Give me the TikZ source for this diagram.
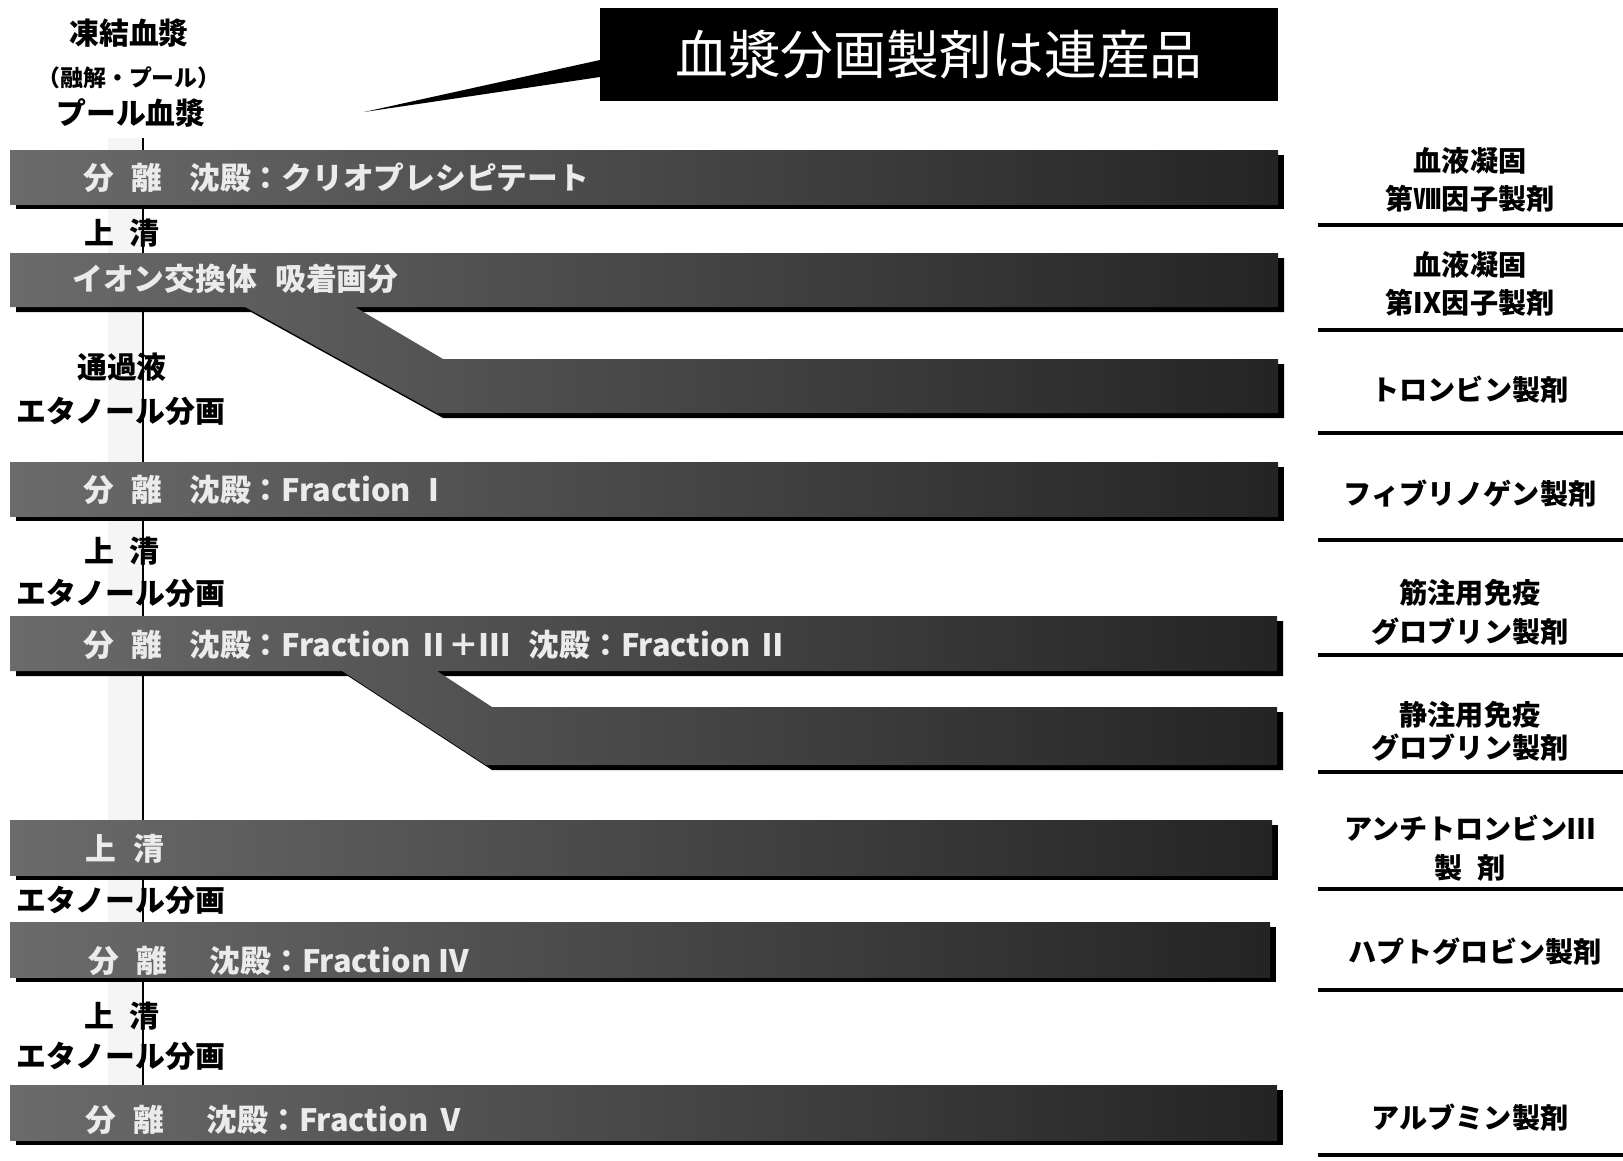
\documentclass[tikz,border=0pt]{standalone}
\usepackage{fontspec}
\newfontfamily\jp{Noto Sans CJK JP}
\begin{document}
\begin{tikzpicture}[x=0.2mm,y=-0.2mm,line join=round,
	lbl/.style={font=\jp\bfseries\fontsize{17}{21}\selectfont,inner sep=0pt},
	prod/.style={font=\jp\bfseries\fontsize{16}{22}\selectfont,align=center,inner sep=0pt},
	bartxt/.style={font=\jp\bfseries\fontsize{17.5}{20}\selectfont,text=black!8,anchor=west,inner sep=0pt},
	barfill/.style={left color=black!58,right color=black!86},
	barshadow/.style={fill=black,shift={(6,5)}},
	prodline/.style={line width=0.8mm}]
	\useasboundingbox (0,0) rectangle (1623,1160);
	\def\barB{(10,253)--(1278,253)--(1278,307)--(355,307)--(443,359)--(1278,359)--(1278,413)--(437,413)--(245,307)--(10,307)--cycle}
	\def\barD{(10,616)--(1277,616)--(1277,671)--(437,671)--(492,707)--(1277,707)--(1277,765)--(486,765)--(342,671)--(10,671)--cycle}
	% main flow line
	\fill[black!4] (108,138) rectangle (142,1085);
	\coordinate (flowtop) at (143,138);
	\coordinate (flowend) at (143,1085);
	\draw[line width=0.4mm] (flowtop)--(flowend);
	% process bars
	\foreach \yt/\yb/\xr in {150/204/1278,462/516/1278,820/875/1272,922/977/1270,1085/1140/1277}{
		\fill[barshadow] (10,\yt) rectangle (\xr,\yb);
		\shade[barfill] (10,\yt) rectangle (\xr,\yb);}
	\fill[barshadow] \barB; \shade[barfill] \barB;
	\fill[barshadow] \barD; \shade[barfill] \barD;
	\node[bartxt] (cryo) at (83,178) {分\hspace{0.55em}離\hspace{0.9em}沈殿：クリオプレシピテート};
	\node[bartxt] (ionex) at (72,279) {イオン交換体\hspace{0.6em}吸着画分};
	\node[bartxt] (frI) at (83,490) {分\hspace{0.55em}離\hspace{0.9em}沈殿：Fraction Ⅰ};
	\node[bartxt] (frII) at (83,645) {分\hspace{0.55em}離\hspace{0.9em}沈殿：Fraction Ⅱ＋Ⅲ\hspace{0.6em}沈殿：Fraction Ⅱ};
	\node[bartxt] (supV) at (85,849) {上\hspace{0.55em}清};
	\node[bartxt] (frIV) at (88,961) {分\hspace{0.55em}離\hspace{1.4em}沈殿：Fraction Ⅳ};
	\node[bartxt] (frV) at (85,1120) {分\hspace{0.55em}離\hspace{1.4em}沈殿：Fraction Ⅴ};
	% left labels
	\node[lbl] (frozen) at (129,33) {凍結血漿};
	\node[lbl,font=\jp\bfseries\fontsize{13}{15}\selectfont] (thaw) at (129,78) {（融解・プール）};
	\node[lbl] (pool) at (131,113) {プール血漿};
	\node[lbl] (sup1) at (122,233) {上\hspace{0.5em}清};
	\node[lbl] (flow) at (122,367) {通過液};
	\node[lbl] (eth1) at (121,411) {エタノール分画};
	\node[lbl] (sup2) at (122,551) {上\hspace{0.5em}清};
	\node[lbl] (eth2) at (121,593) {エタノール分画};
	\node[lbl] (eth3) at (121,900) {エタノール分画};
	\node[lbl] (sup3) at (122,1016) {上\hspace{0.5em}清};
	\node[lbl] (eth4) at (121,1056) {エタノール分画};
	% callout
	\coordinate (tip) at (364,112);
	\fill (600,60)--(tip)--(600,77)--cycle;
	\node[fill=black,text=white,minimum width=135.6mm,minimum height=18.6mm,inner sep=0pt,
		font=\jp\fontsize{30}{34}\selectfont] (slogan) at (939,54.5) {血漿分画製剤は連産品};
	% products
	\node[prod] (f8) at (1470,180) {血液凝固\\第Ⅷ因子製剤};
	\node[prod] (f9) at (1470,284) {血液凝固\\第Ⅸ因子製剤};
	\node[prod] (thr) at (1470,390) {トロンビン製剤};
	\node[prod] (fib) at (1470,494) {フィブリノゲン製剤};
	\node[prod] (imig) at (1470,612) {筋注用免疫\\グロブリン製剤};
	\node[prod,font=\jp\bfseries\fontsize{16}{19}\selectfont] (ivig) at (1470,731) {静注用免疫\\グロブリン製剤};
	\node[prod] (at3) at (1470,848) {アンチトロンビンⅢ\\製\hspace{0.5em}剤};
	\node[prod] (hapto) at (1475,952) {ハプトグロビン製剤};
	\node[prod] (alb) at (1470,1118) {アルブミン製剤};
	\foreach \y in {225,330,433,540,655,772,889,990,1155}
		\draw[prodline] (1318,\y)--(1623,\y);
\end{tikzpicture}
\end{document}
